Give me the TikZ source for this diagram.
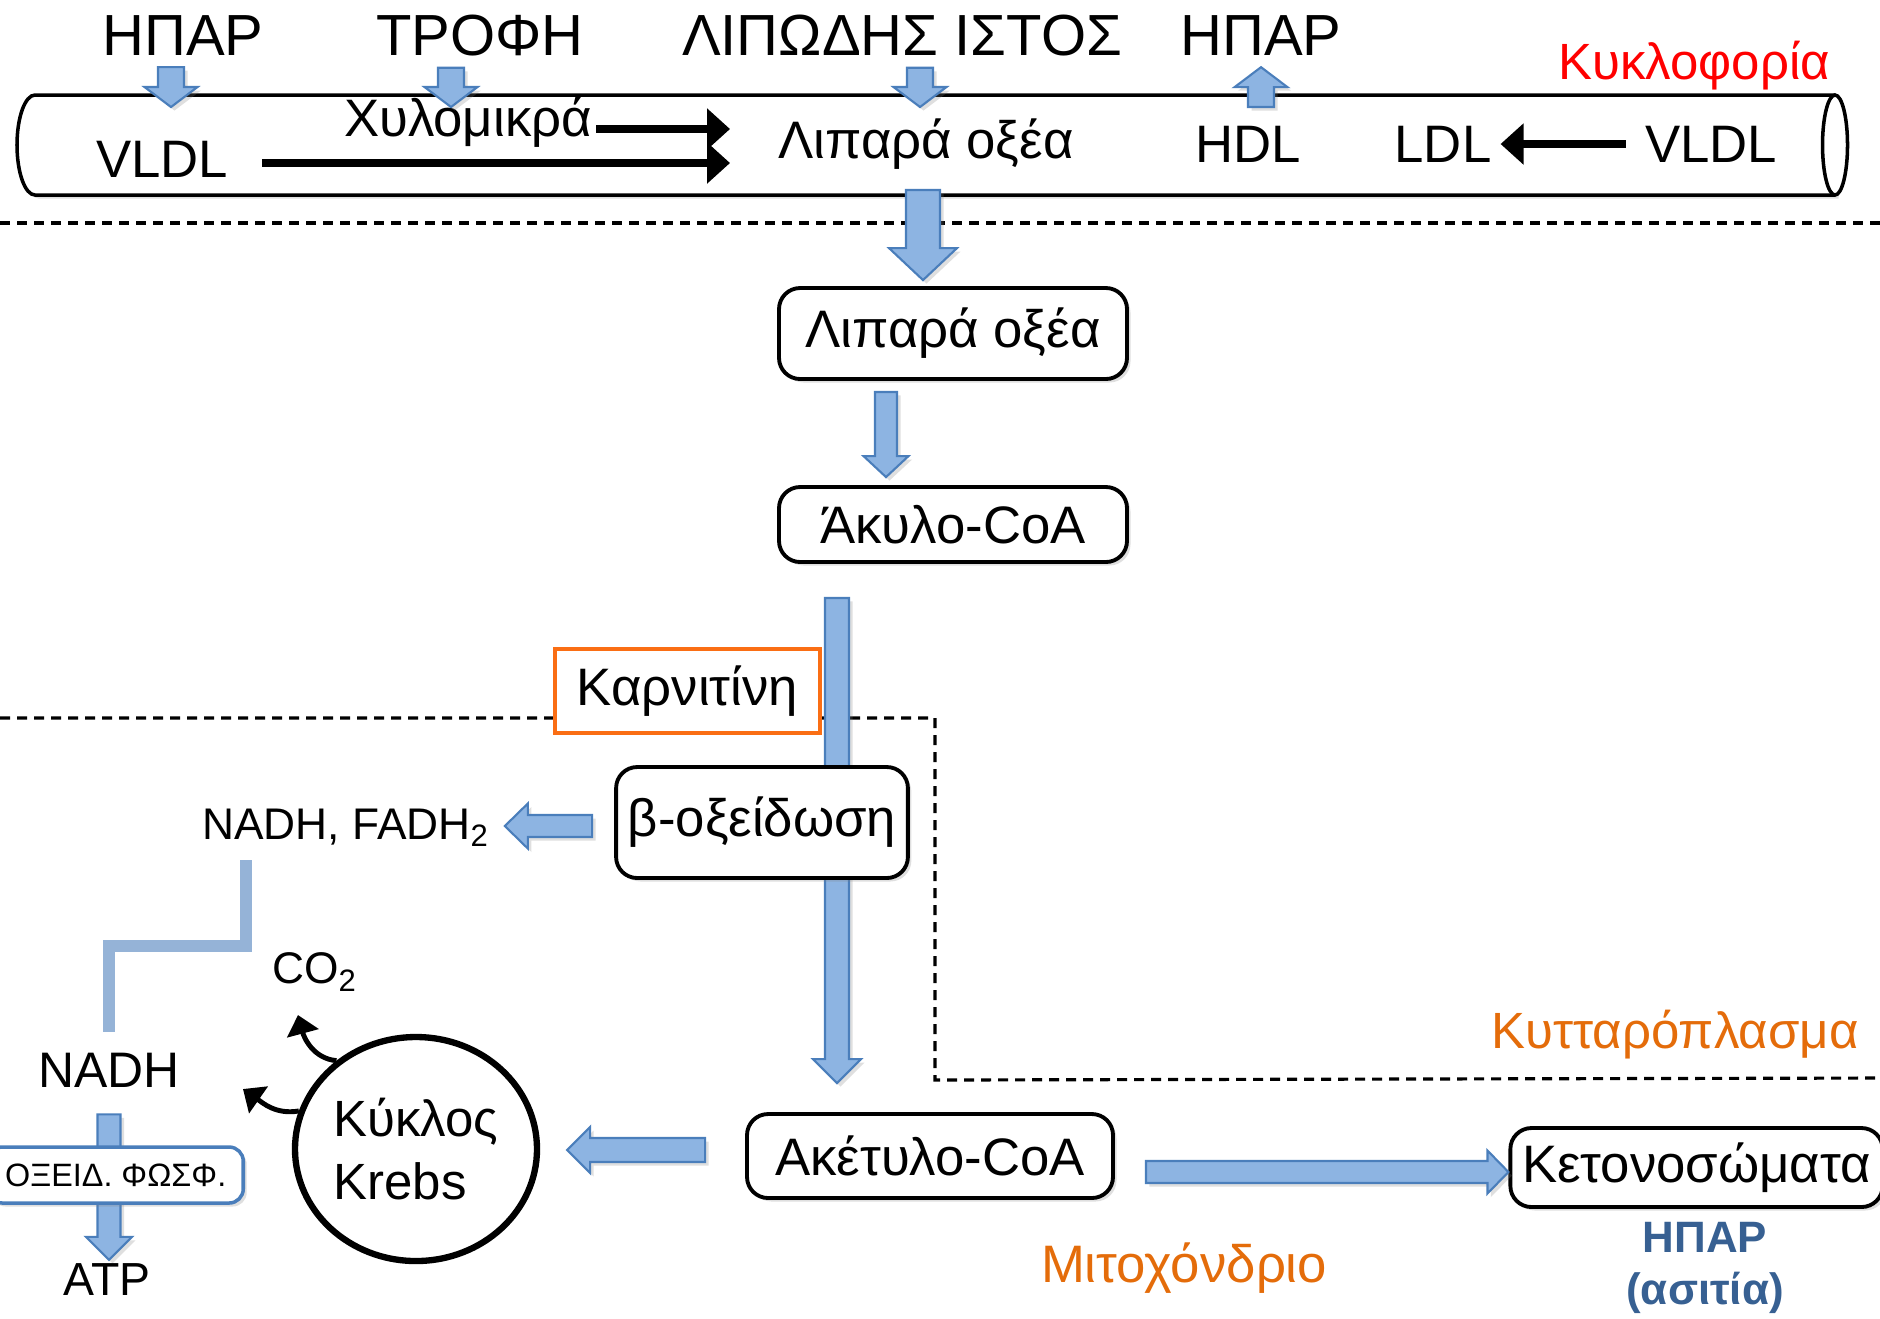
\documentclass[tikz,border=0pt]{standalone}
\usepackage{fontspec}
\setmainfont{Liberation Sans}
\usetikzlibrary{positioning, arrows.meta, shapes.geometric, calc, shadows, backgrounds}
\definecolor{arrfill}{RGB}{141,180,226}
\definecolor{arrdraw}{RGB}{74,126,187}
\definecolor{elbowblue}{RGB}{149,179,215}
\definecolor{carnorange}{RGB}{250,110,20}
\definecolor{regorange}{RGB}{228,108,10}
\definecolor{liverblue}{RGB}{55,96,146}
\tikzset{
    softshadow/.style={drop shadow={shadow xshift=0.035cm, shadow yshift=-0.035cm, opacity=0.25}},
    toplbl/.style={font=\fontsize{16.5}{19}\selectfont, inner sep=1pt},
    tubelbl/.style={font=\fontsize{15}{18}\selectfont, inner sep=1pt},
    smalllbl/.style={font=\fontsize{#1}{16}\selectfont, inner sep=1pt},
    regionlbl/.style={font=\fontsize{#1}{18}\selectfont, text=regorange, inner sep=1pt},
    stepbox/.style={rectangle, rounded corners=6pt, draw=black, line width=1.1pt, fill=white, font=\fontsize{15}{18}\selectfont, softshadow},
    carnbox/.style={rectangle, draw=carnorange, line width=1pt, fill=white, font=\fontsize{15}{18}\selectfont},
    oxbox/.style={rectangle, rounded corners=4pt, draw=arrdraw, line width=1pt, fill=white, font=\fontsize{9.2}{12}\selectfont, softshadow},
    krebsnode/.style={ellipse, draw=black, line width=1.8pt, fill=white, minimum width=2.42cm, minimum height=2.24cm, inner sep=0pt, align=left, font=\fontsize{14.5}{18}\selectfont},
    tubebody/.style={draw=black, line width=1pt},
    fatarr/.style={fill=arrfill, draw=arrdraw, line width=0.6pt, softshadow},
    blkarr/.style={-{Triangle[length=0.23cm,width=0.40cm]}, line width=2.4pt},
    curvarr/.style={-{Triangle[length=0.19cm,width=0.32cm]}, line width=1.4pt},
    sepline/.style={dash pattern=on 0.1cm off 0.07cm, line width=0.9pt},
    elbow/.style={draw=elbowblue, line width=3.4pt}
}
\newcommand{\fatarrow}[5]{%
    \path (#1) coordinate (fafrom) (#2) coordinate (fato);
    \path ($(fato)!#5!(fafrom)$) coordinate (fabase);
    \draw[fatarr] ($(fafrom)!#3!90:(fato)$) -- ($(fabase)!#3!-90:(fafrom)$)
        -- ($(fabase)!#4!-90:(fafrom)$) -- (fato) -- ($(fabase)!#4!90:(fafrom)$)
        -- ($(fabase)!#3!90:(fafrom)$) -- ($(fafrom)!#3!-90:(fato)$) -- cycle;
}

\begin{document}
\begin{tikzpicture}
    \useasboundingbox (0,0) rectangle (18.8,-13.18);
    \clip (0,0) rectangle (18.8,-13.18);

    % blood vessel
    \fill[white, softshadow] (18.35,-0.95) -- (0.35,-0.95) arc[start angle=90, end angle=270, x radius=0.18, y radius=0.5] -- (18.35,-1.95) -- cycle;
    \draw[tubebody] (18.35,-0.95) -- (0.35,-0.95) arc[start angle=90, end angle=270, x radius=0.18, y radius=0.5] -- (18.35,-1.95);
    \draw[tubebody, fill=white] (18.35,-1.45) ellipse[x radius=0.125, y radius=0.5];

    \node[toplbl] (hpar1) at (1.83,-0.36) {ΗΠΑΡ};
    \node[toplbl] (trofi) at (4.80,-0.36) {ΤΡΟΦΗ};
    \node[toplbl] (liptis) at (9.02,-0.36) {ΛΙΠΩΔΗΣ ΙΣΤΟΣ};
    \node[toplbl] (hpar2) at (12.61,-0.36) {ΗΠΑΡ};
    \node[smalllbl=14.5, text=red] (kykl) at (16.94,-0.66) {Κυκλοφορία};

    \node[tubelbl] (vldl1) at (1.62,-1.59) {VLDL};
    \node[tubelbl] (xylo) at (4.68,-1.22) {Χυλομικρά};
    \node[tubelbl] (lipt) at (9.26,-1.44) {Λιπαρά οξέα};
    \node[tubelbl] (hdl) at (12.48,-1.44) {HDL};
    \node[tubelbl] (ldl) at (14.43,-1.44) {LDL};
    \node[tubelbl] (vldl2) at (17.11,-1.44) {VLDL};

    \coordinate (tube1) at (1.71,-1.07);
    \coordinate (tube2) at (4.51,-1.07);
    \coordinate (tube3) at (9.20,-1.07);
    \coordinate (tube4) at (12.61,-1.07);
    \fatarrow{[xshift=-0.12cm,yshift=-0.07cm]hpar1.south}{tube1}{0.13cm}{0.265cm}{0.2cm}
    \fatarrow{[xshift=-0.29cm,yshift=-0.07cm]trofi.south}{tube2}{0.13cm}{0.265cm}{0.2cm}
    \fatarrow{[xshift=0.18cm,yshift=-0.07cm]liptis.south}{tube3}{0.13cm}{0.265cm}{0.2cm}
    \fatarrow{tube4}{[yshift=-0.07cm]hpar2.south}{0.13cm}{0.265cm}{0.2cm}

    \coordinate (chyltip) at (7.30,-1.29);
    \coordinate (vldltip) at (7.30,-1.63);
    \draw[blkarr] (xylo.east |- chyltip) -- (chyltip);
    \draw[blkarr] ([xshift=0.3cm]vldl1.east |- vldltip) -- (vldltip);
    \draw[blkarr] ([xshift=-0.15cm]vldl2.west) -- ([xshift=0.05cm]ldl.east);

    % cell
    \node[stepbox, minimum width=3.48cm, minimum height=0.91cm] (lipbox) at (9.53,-3.335) {Λιπαρά οξέα};
    \node[stepbox, minimum width=3.48cm, minimum height=0.75cm] (akylo) at (9.53,-5.245) {Άκυλο-CoA};
    \node[carnbox, minimum width=2.65cm, minimum height=0.84cm] (karn) at (6.875,-6.91) {Καρνιτίνη};
    \node[stepbox, minimum width=2.86cm, minimum height=1.11cm] (beta) at (7.62,-8.225) {β-οξείδωση};
    \node[stepbox, minimum width=3.66cm, minimum height=0.84cm] (aket) at (9.30,-11.56) {Ακέτυλο-CoA};
    \node[stepbox, minimum width=3.67cm, minimum height=0.79cm] (keto) at (16.965,-11.675) {Κετονοσώματα};

    \node[smalllbl=12.6] (nadhf) at (3.46,-8.28) {NADH, FADH\textsubscript{2}};
    \node[smalllbl=12.6] (co2) at (3.15,-9.72) {CO\textsubscript{2}};
    \node[smalllbl=14.2] (nadh) at (1.09,-10.70) {NADH};
    \node[smalllbl=13.2] (atp) at (1.07,-12.80) {ATP};
    \node[oxbox, anchor=east, minimum height=0.56cm, inner xsep=0.17cm] (oxphos) at (2.45,-11.75) {ΟΞΕΙΔ. ΦΩΣΦ.};
    \node[krebsnode] (krebs) at (4.16,-11.49) {Κύκλος\\Krebs};

    \node[regionlbl=14.5] (cyto) at (16.75,-10.35) {Κυτταρόπλασμα};
    \node[regionlbl=15] (mito) at (11.84,-12.68) {Μιτοχόνδριο};
    \node[font=\fontsize{12.5}{15}\selectfont\bfseries, text=liverblue, align=center, inner sep=1pt] (liver) at (17.05,-12.68) {ΗΠΑΡ\\(ασιτία)};

    \begin{scope}[on background layer]
        \draw[sepline] (0,-2.23) -- (18.8,-2.23);
        \draw[sepline] (0,-7.18) -- (9.35,-7.18) -- (9.35,-10.80) -- (18.8,-10.78);
        \fatarrow{[xshift=-1.16cm,yshift=-0.34cm]akylo.south}{[xshift=-0.93cm,yshift=0.29cm]aket.north}{0.12cm}{0.24cm}{0.24cm}
        \coordinate (atpin) at (nadh.south |- atp.north);
        \fatarrow{[yshift=-0.23cm]nadh.south}{atpin}{0.115cm}{0.23cm}{0.23cm}
    \end{scope}

    \coordinate (tubeout) at (9.23,-1.90);
    \coordinate (lipin) at (lipbox.north -| tubeout);
    \fatarrow{tubeout}{[yshift=0.06cm]lipin}{0.17cm}{0.34cm}{0.32cm}
    \fatarrow{[xshift=-0.67cm,yshift=-0.11cm]lipbox.south}{[xshift=-0.67cm,yshift=0.08cm]akylo.north}{0.11cm}{0.225cm}{0.21cm}
    \fatarrow{[xshift=-0.22cm,yshift=-0.035cm]beta.west}{[xshift=0.11cm,yshift=0.02cm]nadhf.east}{0.11cm}{0.225cm}{0.23cm}
    \fatarrow{[xshift=-0.40cm,yshift=0.06cm]aket.west}{[xshift=0.27cm,yshift=-0.01cm]krebs.east}{0.12cm}{0.23cm}{0.23cm}
    \fatarrow{[xshift=0.31cm,yshift=-0.16cm]aket.east}{[yshift=-0.045cm]keto.west}{0.11cm}{0.215cm}{0.21cm}

    \draw[elbow] ([xshift=-1.0cm,yshift=-0.09cm]nadhf.south) -- ++(0,-0.86) -| ([yshift=0.17cm]nadh.north);

    \coordinate (co2tip) at (2.98,-10.15);
    \coordinate (nadhtip) at (2.43,-10.89);
    \draw[curvarr] (krebs.132) to[out=175, in=-75] (co2tip);
    \draw[curvarr] (krebs.162) to[out=190, in=-35] (nadhtip);
\end{tikzpicture}
\end{document}
